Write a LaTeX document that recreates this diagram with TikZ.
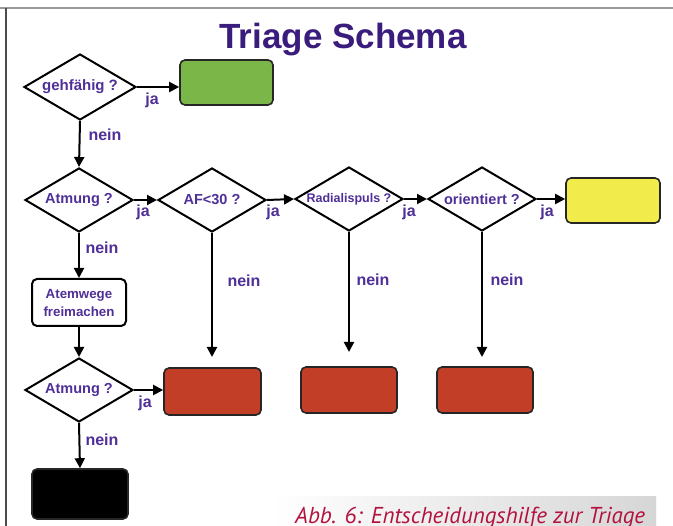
\documentclass[tikz,border=0pt]{standalone}
\usepackage{fontspec}
\setmainfont{Liberation Sans}
\newfontfamily\lblfont{Liberation Sans}
\newfontfamily\capfont{PT Sans}
\usetikzlibrary{shapes.geometric,arrows.meta}
\definecolor{purp}{HTML}{4F2F98}
\definecolor{titlepurp}{HTML}{3A1C7C}
\definecolor{boxgreen}{HTML}{7AB648}
\definecolor{boxyellow}{HTML}{F1EC4C}
\definecolor{boxred}{HTML}{C23E26}
\definecolor{crim}{HTML}{B3123F}
\tikzset{
  dec/.style={diamond, draw=black, line width=2pt, fill=white, inner sep=0pt,
    minimum width=108pt, minimum height=64pt, text=purp,
    font=\lblfont\bfseries\fontsize{14.5}{16}\selectfont},
  fbox/.style={rectangle, rounded corners=5pt, draw=black!85, line width=1.6pt,
    minimum width=96pt, minimum height=46pt, inner sep=0pt},
  arr/.style={-{Triangle[length=10pt,width=10pt]}, line width=2pt},
  lab/.style={text=purp, inner sep=0pt, font=\lblfont\bfseries\fontsize{16}{18}\selectfont},
}
\begin{document}
\begin{tikzpicture}[x=1pt,y=-1pt]
\useasboundingbox (0,0) rectangle (673,526);
\clip (0,0) rectangle (673,526);
\fill[white] (0,0) rectangle (673,526);
% frame
\draw[gray!80, line width=2pt] (0,8) -- (680,8);
\draw[gray!60!black, line width=1.2pt] (6,8) -- (6,530);
% title
\node[anchor=base, text=titlepurp, font=\bfseries\fontsize{35}{40}\selectfont] (title) at (343,49) {Triage Schema};
% diamonds
\node[dec, minimum width=112pt, minimum height=66pt, font=\lblfont\bfseries\fontsize{15}{16}\selectfont] (d1) at (80,87) {\makebox[0pt]{gehfähig ?}};
\node[dec] (d2) at (79,200) {\makebox[0pt]{Atmung ?}};
\node[dec] (d3) at (212,200) {\makebox[0pt]{AF<30 ?}};
\node[dec, font=\lblfont\bfseries\fontsize{12.5}{14}\selectfont] (d4) at (349,199) {\makebox[0pt]{Radialispuls ?}};
\node[dec] (d5) at (482,199) {\makebox[0pt]{orientiert ?}};
\node[dec] (d6) at (79,390) {\makebox[0pt]{Atmung ?}};
% boxes
\node[fbox, fill=boxgreen, minimum width=93pt, minimum height=45pt] (g) at (226.5,82.5) {};
\node[fbox, fill=boxyellow, minimum width=94pt, minimum height=45pt] (y) at (613,200.5) {};
\node[fbox, fill=white, draw=black, line width=2pt, minimum width=94pt, minimum height=47pt, align=center,
  text=purp, font=\lblfont\bfseries\fontsize{13.3}{18}\selectfont] (aw) at (79,302.5) {Atemwege\\freimachen};
\node[fbox, fill=boxred, minimum width=97pt, minimum height=47pt] (r1) at (212.5,391.5) {};
\node[fbox, fill=boxred] (r2) at (349,390) {};
\node[fbox, fill=boxred] (r3) at (485,390) {};
\node[fbox, fill=black, minimum height=50pt] (blk) at (80,494) {};
% free ends
\coordinate (e3) at (212,357);
\coordinate (e4) at (349,352);
\coordinate (e5) at (482,357);
% connectors
\draw[arr] (d1.east) -- (d1.east -| g.west);
\draw[arr] (d1.south) -- (d2.north);
\draw[arr] (d2.east) -- (d3.west);
\draw[arr] (d3.east) -- (d4.west);
\draw[arr] (d4.east) -- (d5.west);
\draw[arr] (d5.east) -- (d5.east -| y.west);
\draw[arr] (d2.south) -- (aw.north);
\draw[arr] (aw.south) -- (d6.north);
\draw[arr] (d6.east) -- (d6.east -| r1.west);
\draw[arr] (d6.south) -- (blk.north);
\draw[arr] (d3.south) -- (e3);
\draw[arr] (d4.south) -- (e4);
\draw[arr] (d5.south) -- (e5);
% labels
\node[lab] (ja1) at (152,100) {ja};
\node[lab] (n1) at (105,135) {nein};
\node[lab] (ja2) at (143,212) {ja};
\node[lab] (ja3) at (273,212) {ja};
\node[lab] (ja4) at (409,212) {ja};
\node[lab] (ja5) at (547,212) {ja};
\node[lab] (n2) at (102,248) {nein};
\node[lab] (n3) at (244,281) {nein};
\node[lab] (n4) at (373,280) {nein};
\node[lab] (n5) at (507,280) {nein};
\node[lab] (ja6) at (145,403) {ja};
\node[lab] (n6) at (102,440) {nein};
% caption
\shade[left color=white, right color=gray!32] (272,497) rectangle (656,540);
\node[anchor=base west, inner sep=0pt, text=crim, font=\capfont\itshape\fontsize{23}{26}\selectfont] (cap) at (295,524) {Abb. 6: Entscheidungshilfe zur Triage};
\end{tikzpicture}
\end{document}
